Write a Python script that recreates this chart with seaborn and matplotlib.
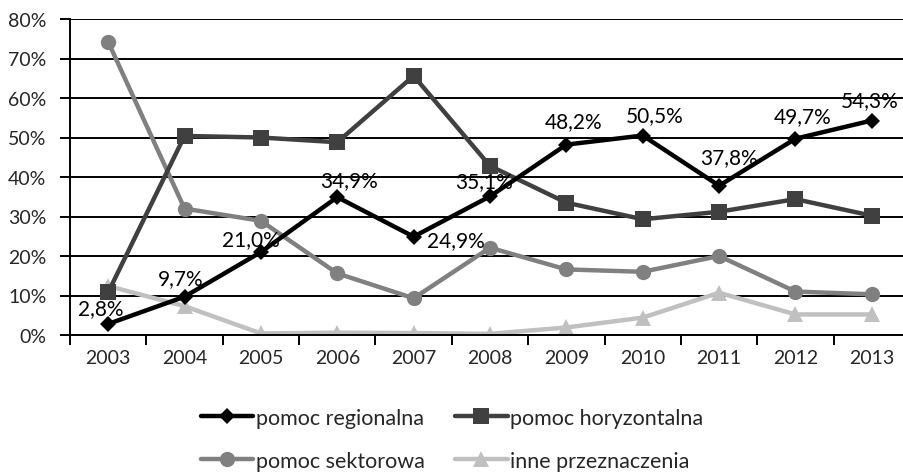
import numpy as np
import pandas as pd
import matplotlib
matplotlib.use("Agg")
import matplotlib.pyplot as plt
import seaborn as sns
from matplotlib.ticker import FixedLocator, FuncFormatter

# data (%)
years = ["2003", "2004", "2005", "2006", "2007", "2008",
         "2009", "2010", "2011", "2012", "2013"]
regionalna = [2.8, 9.7, 21.0, 34.9, 24.9, 35.1, 48.2, 50.5, 37.8, 49.7, 54.3]
horyzontalna = [10.8, 50.4, 50.0, 48.8, 65.6, 42.8, 33.5, 29.3, 31.2, 34.4, 30.2]
sektorowa = [74.2, 32.0, 28.9, 15.6, 9.3, 22.1, 16.6, 16.0, 20.0, 11.0, 10.3]
inne = [12.4, 7.3, 0.4, 0.6, 0.5, 0.3, 1.9, 4.4, 10.7, 5.2, 5.2]

series_names = ["pomoc regionalna", "pomoc horyzontalna",
                "pomoc sektorowa", "inne przeznaczenia"]
series_values = [regionalna, horyzontalna, sektorowa, inne]
colors = ["#000000", "#404040", "#808080", "#c0c0c0"]
markers = ["D", "s", "o", "^"]
msizes = [8, 11, 11, 11]

# label offsets (pixels) for the regional series, tuned by eye
label_offsets = [(-7, 16), (-4, 19), (-10, 13), (12, 17), (42, -3), (-6, 15),
                 (7, 24), (12, 20), (10, 29), (7, 23), (-2, 20)]

FS = 14

sns.set_style("white")
plt.rcParams["font.family"] = ["Lato", "DejaVu Sans"]

fig = plt.figure(figsize=(9.04, 4.77), dpi=100)
ax = fig.add_axes([70 / 904, 1 - 336 / 477, 840 / 904, 316 / 477])

xpos = np.arange(len(years))
# draw in reverse so regional line is on top
for name, vals, col, mk, ms in reversed(list(zip(series_names, series_values, colors, markers, msizes))):
    df = pd.DataFrame({"x": xpos, "y": vals})
    sns.lineplot(data=df, x="x", y="y", ax=ax, color=col, linewidth=3.2,
                 marker=mk, markersize=ms, markeredgewidth=0, label=name,
                 zorder=3 if name == "pomoc regionalna" else 2)

for i, v in enumerate(regionalna):
    ax.annotate(f"{v:.1f}%".replace(".", ","), (xpos[i], v),
                xytext=label_offsets[i], textcoords="offset pixels",
                ha="center", va="center", fontsize=15, color="black", zorder=5)

ax.set_xlim(-0.5, len(years) - 0.5)
ax.set_ylim(0, 80)
ax.yaxis.set_major_locator(FixedLocator(np.arange(0, 81, 10)))
ax.yaxis.set_major_formatter(FuncFormatter(lambda v, p: f"{int(v)}%"))
ax.grid(axis="y", color="black", linewidth=1.4, zorder=0)
ax.set_axisbelow(True)

ax.set_xticks(xpos)
ax.set_xticklabels(years)
ax.set_xticks(np.arange(-0.5, len(years), 1), minor=True)
ax.tick_params(axis="x", which="major", length=0, pad=10, labelsize=FS)
ax.tick_params(axis="x", which="minor", length=7, width=1.4, direction="out",
               color="black", bottom=True)
ax.tick_params(axis="y", length=7, width=1.4, direction="out", color="black",
               pad=10, labelsize=FS, left=True)

for s in ["top", "right"]:
    ax.spines[s].set_visible(False)
ax.spines["left"].set_linewidth(1.4)
ax.spines["left"].set_color("black")
ax.spines["bottom"].set_linewidth(1.4)
ax.spines["bottom"].set_color("black")
ax.set_xlabel("")
ax.set_ylabel("")

handles, labels = ax.get_legend_handles_labels()
# column-major fill: rows = (regionalna, horyzontalna), (sektorowa, inne)
leg_order = ["pomoc regionalna", "pomoc sektorowa",
             "pomoc horyzontalna", "inne przeznaczenia"]
order = [labels.index(n) for n in leg_order]
ax.legend_.remove()
fig.legend([handles[i] for i in order], [labels[i] for i in order],
           loc="center", bbox_to_anchor=(0.5, 0.077), ncol=2, frameon=False,
           fontsize=15.5, handlelength=2.45, handletextpad=0.12,
           columnspacing=1.4, labelspacing=1.05)

fig.savefig("out.png", dpi=100)
